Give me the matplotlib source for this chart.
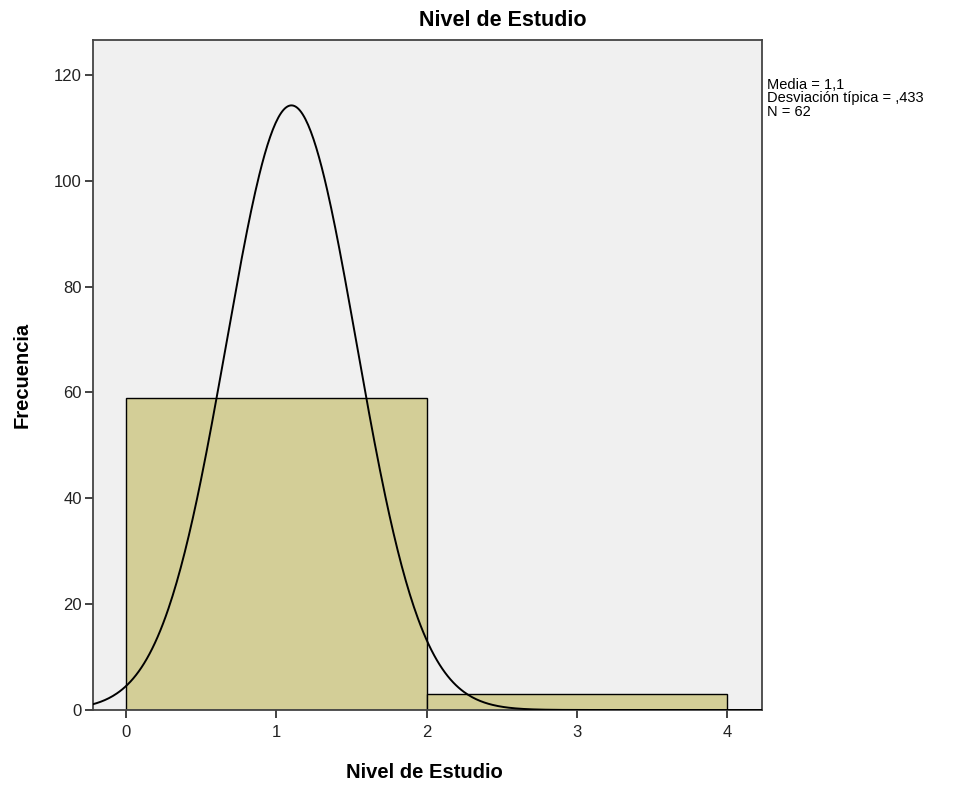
import numpy as np
import matplotlib.pyplot as plt
import matplotlib.font_manager as fm

# histogram data
bin_edges = [0, 2, 4]
counts = [59, 3]
media = 1.1
desv = 0.433
n_total = 62

xticks = [0, 1, 2, 3, 4]
yticks = [0, 20, 40, 60, 80, 100, 120]

names = {f.name for f in fm.fontManager.ttflist}
narrow = 'Liberation Sans Narrow' if 'Liberation Sans Narrow' in names else 'Liberation Sans'
plt.rcParams['font.family'] = [narrow, 'DejaVu Sans']

fig = plt.figure(figsize=(9.68, 7.87), dpi=100)
ax = fig.add_axes([93/968, 1 - 710/787, (762-93)/968, (710-40)/787])
ax.set_facecolor('#f0f0f0')

widths = np.diff(bin_edges)
ax.bar(bin_edges[:-1], counts, width=widths, align='edge',
       color='#d3ce97', edgecolor='black', linewidth=1.0, zorder=2)

# normal curve scaled to counts
bw = widths[0]
xs = np.linspace(-0.25, 4.25, 500)
ys = n_total * bw / (desv * np.sqrt(2 * np.pi)) * np.exp(-0.5 * ((xs - media) / desv) ** 2)
ax.plot(xs, ys, color='black', linewidth=1.4, zorder=3)

ax.set_xlim(-0.22, 4.23)
ax.set_ylim(0, 126.6)
ax.set_xticks(xticks)
ax.set_yticks(yticks)
ax.tick_params(axis='both', direction='out', length=6, width=1.2, colors='#222222', labelsize=12)
ax.tick_params(axis='x', pad=5)
ax.tick_params(axis='y', pad=2)
for s in ax.spines.values():
    s.set_color('#444444')
    s.set_linewidth(1.3)

fig.text(503/968, 1 - 20/787, 'Nivel de Estudio', ha='center', va='center',
         fontsize=15.5, fontweight='bold')
fig.text(424/968, 1 - 773/787, 'Nivel de Estudio', ha='center', va='center',
         fontsize=14.5, fontweight='bold')
fig.text(22/968, 1 - 375/787, 'Frecuencia', ha='center', va='center',
         rotation=90, fontsize=14.5, fontweight='bold')

fig.text(767/968, 1 - 78/787,
         'Media = 1,1\nDesviación típica = ,433\nN = 62',
         ha='left', va='top', fontsize=10.5, linespacing=0.95,
         family=['Liberation Sans', 'DejaVu Sans'])

fig.savefig('out.png', dpi=100)
